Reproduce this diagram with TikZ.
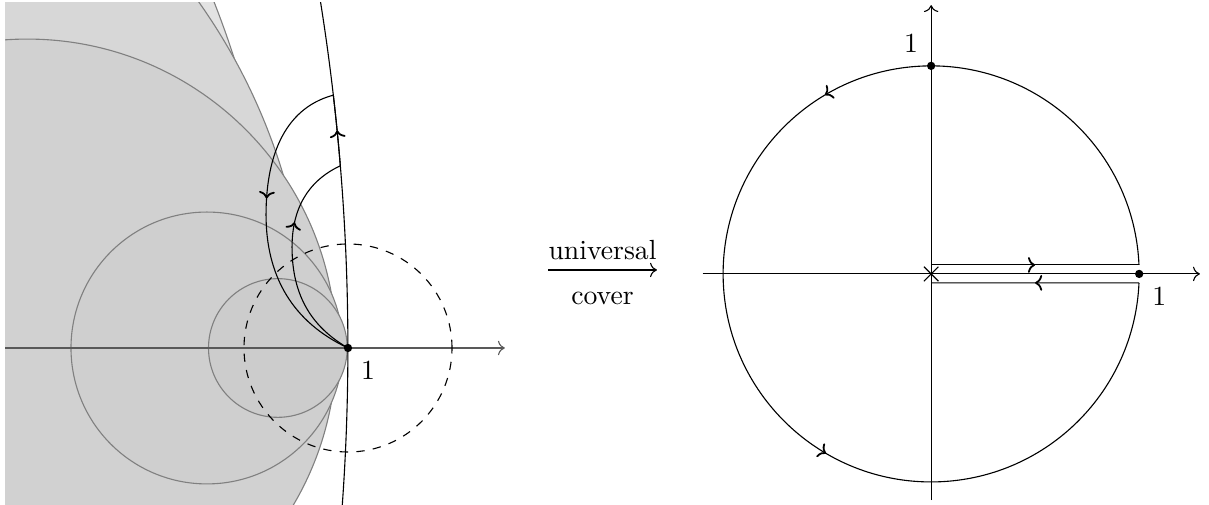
\documentclass[tikz,border=0pt]{standalone}
\usepackage{tikz}
\usepackage{xcolor}
\usetikzlibrary{arrows.meta,positioning,decorations.markings,shapes.misc}

\definecolor{shadeA}{gray}{0.89}
\definecolor{shadeB}{gray}{0.843}
\definecolor{shadeC}{gray}{0.82}
\definecolor{shadeD}{gray}{0.81}
\definecolor{shadeE}{gray}{0.80}

\begin{document}
\begin{tikzpicture}[
    disc/.style={draw=gray, line width=0.4pt},
    axis/.style={->},
    dot/.style={circle, fill, inner sep=0pt, minimum size=3pt},
    arrowat/.style={postaction={decorate}, decoration={markings, mark=at position #1 with {\arrow{To[length=0.9mm, width=2mm, line width=0.65pt]}}}},
    twoarrows/.style={postaction={decorate}, decoration={markings,
        mark=at position 0.333 with {\arrow{To[length=0.9mm, width=2mm, line width=0.65pt]}},
        mark=at position 0.668 with {\arrow{To[length=0.9mm, width=2mm, line width=0.65pt]}}}}
]
\useasboundingbox (-4.416,-1.98) rectangle (10.926,4.416);

\begin{scope}
\clip (-4.35,-1.98) rectangle (2.2,4.38);
\filldraw[disc, fill=shadeA] (-12.86,0) circle[radius=11.99];
\filldraw[disc, fill=shadeB] (-8.11,0) circle[radius=7.61];
\filldraw[disc, fill=shadeC] (-4.07,0) circle[radius=3.92];
\filldraw[disc, fill=shadeD] (-1.79,0) circle[radius=1.725];
\filldraw[disc, fill=shadeE] (-0.89,0) circle[radius=0.88];
\draw[axis, black!65] (-4.35,0) -- (1.99,0);
\coordinate (uc) at (-27.92,0);
\draw ([shift={(-4.5:27.92)}]uc) arc[start angle=-4.5, end angle=9.1, radius=27.92];
\end{scope}

\node[dot] (one) at (0,0) {};
\node[below right=0pt of one] (oneLabel) {1};
\draw[dashed] (one.center) circle[radius=1.32];

\coordinate (inS) at ([shift={(4.75:27.92)}]uc);
\coordinate (outS) at ([shift={(6.6:27.92)}]uc);
\coordinate (inL) at (-0.71,1.28);
\coordinate (outL) at (-1.04,1.69);

\draw[arrowat=0.5] (inS) arc[start angle=4.75, end angle=6.6, radius=27.92];
\draw[arrowat=0.66] (one.center) to[out=150,in=-90] (inL) to[out=90,in=205] (inS);
\draw[arrowat=0.42] (outS) to[out=195,in=90] (outL) to[out=-90,in=155] (one.center);

\coordinate (ucA) at (2.54,0.99);
\coordinate (ucB) at (3.92,0.99);
\draw[->] (ucA) -- node[above] (universal) {universal} node[below=4.5pt] (cover) {cover} (ucB);

\node[cross out, draw, inner sep=0pt, minimum size=0.17cm] (zero) at (7.40,0.94) {};
\draw[axis] ([xshift=-2.9cm]zero.center) -- ([xshift=3.41cm]zero.center);
\draw[axis] ([yshift=-2.87cm]zero.center) -- ([yshift=3.41cm]zero.center);

\draw[arrowat=0.5] ([yshift=0.114cm]zero.center) -- ++(2.6375,0) coordinate (slitA);
\draw[twoarrows] (slitA) arc[start angle=2.475, end angle=357.525, radius=2.64] coordinate (slitB);
\draw[arrowat=0.5] (slitB) -- ([yshift=-0.114cm]zero.center);

\node[dot] (rone) at ([xshift=2.64cm]zero.center) {};
\node[below right=0pt of rone] (roneLabel) {1};
\node[dot] (itop) at ([yshift=2.64cm]zero.center) {};
\node[above left=0pt of itop] (itopLabel) {1};
\end{tikzpicture}
\end{document}
